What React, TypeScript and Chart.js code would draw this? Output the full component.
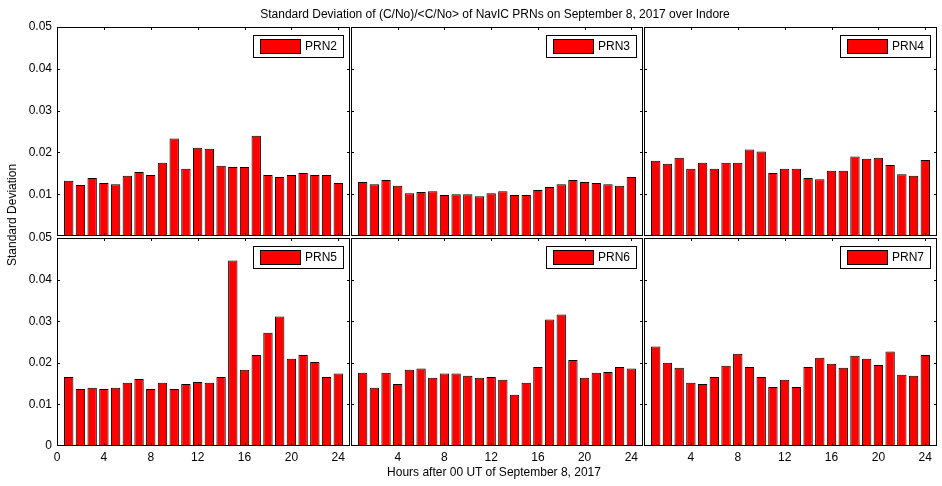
import { useEffect, useRef } from 'react';
import { Chart, registerables } from 'chart.js';

Chart.register(...registerables);

Chart.defaults.font.family = '"Liberation Sans", Arial, sans-serif';
Chart.defaults.font.size = 12;
Chart.defaults.color = '#000';

// hour bins (1..24) and the std-dev values
const hours = [1, 2, 3, 4, 5, 6, 7, 8, 9, 10, 11, 12, 13, 14, 15, 16, 17, 18, 19, 20, 21, 22, 23, 24];

const prn2 = [0.0132, 0.0122, 0.0139, 0.0127, 0.0124, 0.0144, 0.0153, 0.0146, 0.0175, 0.0233, 0.0161, 0.0211,
  0.0209, 0.0168, 0.0165, 0.0165, 0.0240, 0.0146, 0.0141, 0.0146, 0.0151, 0.0146, 0.0146, 0.0127];
const prn3 = [0.0129, 0.0124, 0.0134, 0.0120, 0.0102, 0.0105, 0.0107, 0.0098, 0.0100, 0.0100, 0.0095, 0.0102,
  0.0107, 0.0098, 0.0098, 0.0110, 0.0117, 0.0124, 0.0134, 0.0129, 0.0127, 0.0124, 0.0120, 0.0141];
const prn4 = [0.0180, 0.0173, 0.0187, 0.0161, 0.0175, 0.0161, 0.0175, 0.0175, 0.0207, 0.0202, 0.0151, 0.0161,
  0.0161, 0.0139, 0.0136, 0.0156, 0.0156, 0.0190, 0.0185, 0.0187, 0.0170, 0.0148, 0.0144, 0.0182];
const prn5 = [0.0166, 0.0137, 0.0140, 0.0137, 0.0140, 0.0152, 0.0161, 0.0137, 0.0152, 0.0137, 0.0149, 0.0154,
  0.0152, 0.0166, 0.0446, 0.0183, 0.0219, 0.0272, 0.0311, 0.0210, 0.0219, 0.0202, 0.0166, 0.0174];
const prn6 = [0.0176, 0.0140, 0.0176, 0.0149, 0.0183, 0.0186, 0.0164, 0.0174, 0.0174, 0.0169, 0.0164, 0.0166,
  0.0159, 0.0123, 0.0152, 0.0190, 0.0304, 0.0316, 0.0207, 0.0164, 0.0176, 0.0178, 0.0190, 0.0186];
const prn7 = [0.0239, 0.0200, 0.0188, 0.0152, 0.0149, 0.0166, 0.0193, 0.0222, 0.0190, 0.0166, 0.0142, 0.0159,
  0.0142, 0.0190, 0.0212, 0.0198, 0.0188, 0.0217, 0.0210, 0.0195, 0.0227, 0.0171, 0.0169, 0.0219];

const xTickValues = [0, 4, 8, 12, 16, 20, 24];
const yTickValues = [0.01, 0.02, 0.03, 0.04];

const TITLE = 'Standard Deviation of (C/No)/<C/No> of NavIC PRNs on September 8, 2017 over Indore';
const X_LABEL = 'Hours after 00 UT of September 8, 2017';
const Y_LABEL = 'Standard Deviation';

// matlab-ish box: frame, inward ticks on all sides, boxed legend top-right
const panelFrame = {
  id: 'panelFrame',
  afterDraw(chart: any) {
    const { ctx, chartArea: a, scales } = chart;
    const tl = 3;
    ctx.save();
    ctx.strokeStyle = '#000';
    ctx.lineWidth = 1;
    ctx.beginPath();
    xTickValues.forEach((v) => {
      const px = Math.round(scales.x.getPixelForValue(v)) + 0.5;
      ctx.moveTo(px, a.bottom);
      ctx.lineTo(px, a.bottom - tl);
      ctx.moveTo(px, a.top);
      ctx.lineTo(px, a.top + tl);
    });
    yTickValues.forEach((v) => {
      const py = Math.round(scales.y.getPixelForValue(v)) + 0.5;
      ctx.moveTo(a.left, py);
      ctx.lineTo(a.left + tl, py);
      ctx.moveTo(a.right, py);
      ctx.lineTo(a.right - tl, py);
    });
    ctx.stroke();
    ctx.strokeRect(a.left + 0.5, a.top + 0.5, a.right - a.left - 1, a.bottom - a.top - 1);

    const ds = chart.data.datasets[0];
    ctx.font = '12px "Liberation Sans", Arial, sans-serif';
    const tw = ctx.measureText(ds.label).width;
    const fw = Math.round(7 + 40 + 5 + tw + 6);
    const fr = a.right - 7;
    const fl = fr - fw;
    const ft = a.top + 8;
    ctx.fillStyle = '#fff';
    ctx.fillRect(fl, ft, fw, 22);
    ctx.strokeRect(fl + 0.5, ft + 0.5, fw, 22);
    ctx.fillStyle = ds.backgroundColor;
    ctx.fillRect(fl + 7, ft + 4, 40, 14);
    ctx.strokeRect(fl + 7.5, ft + 4.5, 40, 14);
    ctx.fillStyle = '#000';
    ctx.textBaseline = 'middle';
    ctx.fillText(ds.label, fl + 52, ft + 12);
    ctx.restore();
  },
};

type PanelProps = {
  label: string;
  values: number[];
  left: number;
  top: number;
  width: number;
  height: number;
  showY: boolean;
  showX: boolean;
  hideYZero: boolean;
  hideXZero: boolean;
};

function Panel({ label, values, left, top, width, height, showY, showX, hideYZero, hideXZero }: PanelProps) {
  const canvasRef = useRef<HTMLCanvasElement>(null);
  const chartRef = useRef<Chart | null>(null);

  useEffect(() => {
    if (!canvasRef.current) return;
    if (chartRef.current) chartRef.current.destroy();

    chartRef.current = new Chart(canvasRef.current, {
      type: 'bar',
      data: {
        datasets: [{
          label,
          data: hours.map((h, i) => ({ x: h, y: values[i] })),
          backgroundColor: '#ff0000',
          borderColor: '#000',
          borderWidth: 1,
          barPercentage: 0.8,
          categoryPercentage: 1,
        }],
      },
      options: {
        animation: false,
        responsive: false,
        maintainAspectRatio: false,
        layout: { padding: { top: 8, left: 0, right: 0, bottom: 0 } },
        plugins: {
          legend: { display: false },
          tooltip: { enabled: false },
        },
        scales: {
          x: {
            type: 'linear',
            min: 0,
            max: 25,
            offset: false,
            display: showX,
            grid: { display: false, drawTicks: false },
            border: { display: false },
            ticks: {
              stepSize: 4,
              includeBounds: false,
              padding: 4,
              maxRotation: 0,
              autoSkip: false,
              callback: (v: any) => (hideXZero && v === 0 ? '' : String(v)),
            },
            afterFit: (s: any) => {
              s.height = showX ? 30 : 0;
              s.paddingLeft = 0;
              s.paddingRight = 0;
            },
          },
          y: {
            type: 'linear',
            min: 0,
            max: 0.05,
            display: showY,
            grid: { display: false, drawTicks: false },
            border: { display: false },
            ticks: {
              stepSize: 0.01,
              padding: 5,
              callback: (v: any) => {
                if (Math.abs(v) < 1e-9) return hideYZero ? '' : '0';
                return Number(v).toFixed(2);
              },
            },
            afterFit: (s: any) => {
              s.width = showY ? 57 : 0;
              s.paddingTop = 0;
              s.paddingBottom = 0;
            },
          },
        },
      } as any,
      plugins: [panelFrame],
    });

    return () => {
      if (chartRef.current) {
        chartRef.current.destroy();
        chartRef.current = null;
      }
    };
  }, [label, values, showX, showY, hideXZero, hideYZero]);

  return (
    <canvas
      ref={canvasRef}
      width={width}
      height={height}
      style={{ position: 'absolute', left, top, width, height }}
    />
  );
}

const textStyle = {
  position: 'absolute' as const,
  fontFamily: '"Liberation Sans", Arial, sans-serif',
  fontSize: 12,
  lineHeight: '14px',
  color: '#000',
  whiteSpace: 'nowrap' as const,
};

export default function App() {
  // plot areas: cols x [57,350) [351,643) [644,937); rows y [27,236) [238,446)
  const topRow = { top: 19, height: 217 };
  const botRow = { top: 230, height: 246 };
  return (
    <div style={{ position: 'absolute', left: 0, top: 0, width: 942, height: 486, background: '#fff', overflow: 'hidden' }}>
      <Panel label="PRN2" values={prn2} left={0} width={350} {...topRow} showY showX={false} hideYZero hideXZero={false} />
      <Panel label="PRN3" values={prn3} left={351} width={292} {...topRow} showY={false} showX={false} hideYZero hideXZero />
      <Panel label="PRN4" values={prn4} left={644} width={293} {...topRow} showY={false} showX={false} hideYZero hideXZero />
      <Panel label="PRN5" values={prn5} left={0} width={350} {...botRow} showY showX hideYZero={false} hideXZero={false} />
      <Panel label="PRN6" values={prn6} left={351} width={292} {...botRow} showY={false} showX hideYZero={false} hideXZero />
      <Panel label="PRN7" values={prn7} left={644} width={293} {...botRow} showY={false} showX hideYZero={false} hideXZero />

      <div style={{ ...textStyle, left: 495, top: 7, transform: 'translateX(-50%)' }}>{TITLE}</div>
      <div style={{ ...textStyle, left: 494, top: 465, transform: 'translateX(-50%)' }}>{X_LABEL}</div>
      <div style={{ ...textStyle, left: 12, top: 215, transform: 'translate(-50%, -50%) rotate(-90deg)' }}>{Y_LABEL}</div>
    </div>
  );
}
